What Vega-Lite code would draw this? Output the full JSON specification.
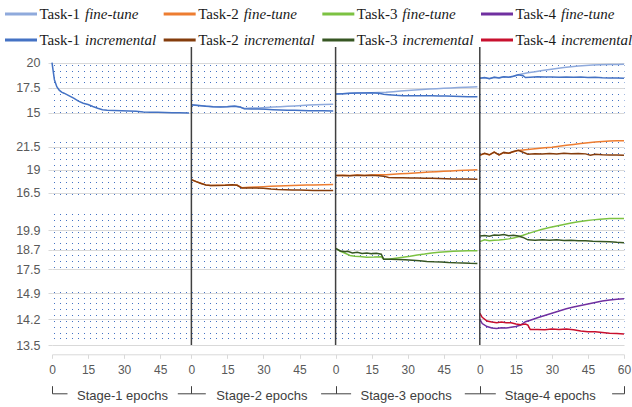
{
"$schema": "https://vega.github.io/schema/vega-lite/v6.json",
"padding": {"left": 5, "top": 5, "right": 0, "bottom": 0},
"bounds": "flush",
"spacing": 0,
"config": {"view": {"stroke": null}, "font": "Liberation Sans", "axis": {"labelFont": "Liberation Sans"}},
"datasets": {
"legend": [
{"col":0,"row":0,"task":"Task-1","mode":"fine-tune","series":"Task-1 fine-tune"},
{"col":1,"row":0,"task":"Task-2","mode":"fine-tune","series":"Task-2 fine-tune"},
{"col":2,"row":0,"task":"Task-3","mode":"fine-tune","series":"Task-3 fine-tune"},
{"col":3,"row":0,"task":"Task-4","mode":"fine-tune","series":"Task-4 fine-tune"},
{"col":0,"row":1,"task":"Task-1","mode":"incremental","series":"Task-1 incremental"},
{"col":1,"row":1,"task":"Task-2","mode":"incremental","series":"Task-2 incremental"},
{"col":2,"row":1,"task":"Task-3","mode":"incremental","series":"Task-3 incremental"},
{"col":3,"row":1,"task":"Task-4","mode":"incremental","series":"Task-4 incremental"}
],
"bounds": [{"b":58},{"b":118},{"b":178}],
"task1": [
{"series":"Task-1 incremental","stage":1,"step":0,"value":20.0},
{"series":"Task-1 incremental","stage":1,"step":1,"value":18.3},
{"series":"Task-1 incremental","stage":1,"step":2,"value":17.6},
{"series":"Task-1 incremental","stage":1,"step":3,"value":17.25},
{"series":"Task-1 incremental","stage":1,"step":4,"value":17.05},
{"series":"Task-1 incremental","stage":1,"step":5,"value":16.95},
{"series":"Task-1 incremental","stage":1,"step":7,"value":16.7},
{"series":"Task-1 incremental","stage":1,"step":9,"value":16.45},
{"series":"Task-1 incremental","stage":1,"step":11,"value":16.15},
{"series":"Task-1 incremental","stage":1,"step":13,"value":15.95},
{"series":"Task-1 incremental","stage":1,"step":15,"value":15.82},
{"series":"Task-1 incremental","stage":1,"step":17,"value":15.62},
{"series":"Task-1 incremental","stage":1,"step":19,"value":15.45},
{"series":"Task-1 incremental","stage":1,"step":21,"value":15.3},
{"series":"Task-1 incremental","stage":1,"step":23,"value":15.24},
{"series":"Task-1 incremental","stage":1,"step":26,"value":15.22},
{"series":"Task-1 incremental","stage":1,"step":29,"value":15.2},
{"series":"Task-1 incremental","stage":1,"step":32,"value":15.18},
{"series":"Task-1 incremental","stage":1,"step":35,"value":15.15},
{"series":"Task-1 incremental","stage":1,"step":38,"value":15.08},
{"series":"Task-1 incremental","stage":1,"step":41,"value":15.05},
{"series":"Task-1 incremental","stage":1,"step":44,"value":15.04},
{"series":"Task-1 incremental","stage":1,"step":47,"value":15.02},
{"series":"Task-1 incremental","stage":1,"step":50,"value":15.0},
{"series":"Task-1 incremental","stage":1,"step":53,"value":15.0},
{"series":"Task-1 incremental","stage":1,"step":57,"value":14.98},
{"series":"Task-1 fine-tune","stage":2,"step":58,"value":15.78},
{"series":"Task-1 fine-tune","stage":2,"step":61,"value":15.72},
{"series":"Task-1 fine-tune","stage":2,"step":64,"value":15.66},
{"series":"Task-1 fine-tune","stage":2,"step":67,"value":15.6},
{"series":"Task-1 fine-tune","stage":2,"step":70,"value":15.6},
{"series":"Task-1 fine-tune","stage":2,"step":73,"value":15.62},
{"series":"Task-1 fine-tune","stage":2,"step":76,"value":15.66},
{"series":"Task-1 fine-tune","stage":2,"step":78,"value":15.6},
{"series":"Task-1 fine-tune","stage":2,"step":80,"value":15.42},
{"series":"Task-1 fine-tune","stage":2,"step":83,"value":15.46},
{"series":"Task-1 fine-tune","stage":2,"step":86,"value":15.48},
{"series":"Task-1 fine-tune","stage":2,"step":89,"value":15.52},
{"series":"Task-1 fine-tune","stage":2,"step":92,"value":15.56},
{"series":"Task-1 fine-tune","stage":2,"step":95,"value":15.6},
{"series":"Task-1 fine-tune","stage":2,"step":98,"value":15.64},
{"series":"Task-1 fine-tune","stage":2,"step":101,"value":15.68},
{"series":"Task-1 fine-tune","stage":2,"step":104,"value":15.72},
{"series":"Task-1 fine-tune","stage":2,"step":107,"value":15.76},
{"series":"Task-1 fine-tune","stage":2,"step":110,"value":15.8},
{"series":"Task-1 fine-tune","stage":2,"step":113,"value":15.82},
{"series":"Task-1 fine-tune","stage":2,"step":117,"value":15.85},
{"series":"Task-1 incremental","stage":2,"step":58,"value":15.8},
{"series":"Task-1 incremental","stage":2,"step":61,"value":15.72},
{"series":"Task-1 incremental","stage":2,"step":64,"value":15.65},
{"series":"Task-1 incremental","stage":2,"step":67,"value":15.6},
{"series":"Task-1 incremental","stage":2,"step":70,"value":15.58},
{"series":"Task-1 incremental","stage":2,"step":73,"value":15.6},
{"series":"Task-1 incremental","stage":2,"step":76,"value":15.64},
{"series":"Task-1 incremental","stage":2,"step":78,"value":15.58},
{"series":"Task-1 incremental","stage":2,"step":80,"value":15.4},
{"series":"Task-1 incremental","stage":2,"step":83,"value":15.38},
{"series":"Task-1 incremental","stage":2,"step":86,"value":15.36},
{"series":"Task-1 incremental","stage":2,"step":89,"value":15.34},
{"series":"Task-1 incremental","stage":2,"step":92,"value":15.3},
{"series":"Task-1 incremental","stage":2,"step":95,"value":15.27},
{"series":"Task-1 incremental","stage":2,"step":98,"value":15.25},
{"series":"Task-1 incremental","stage":2,"step":101,"value":15.24},
{"series":"Task-1 incremental","stage":2,"step":104,"value":15.22},
{"series":"Task-1 incremental","stage":2,"step":107,"value":15.2},
{"series":"Task-1 incremental","stage":2,"step":110,"value":15.2},
{"series":"Task-1 incremental","stage":2,"step":113,"value":15.19},
{"series":"Task-1 incremental","stage":2,"step":117,"value":15.18},
{"series":"Task-1 fine-tune","stage":3,"step":118,"value":16.86},
{"series":"Task-1 fine-tune","stage":3,"step":121,"value":16.9},
{"series":"Task-1 fine-tune","stage":3,"step":124,"value":16.95},
{"series":"Task-1 fine-tune","stage":3,"step":127,"value":16.97},
{"series":"Task-1 fine-tune","stage":3,"step":130,"value":16.99},
{"series":"Task-1 fine-tune","stage":3,"step":133,"value":17.0},
{"series":"Task-1 fine-tune","stage":3,"step":136,"value":17.02},
{"series":"Task-1 fine-tune","stage":3,"step":139,"value":17.04},
{"series":"Task-1 fine-tune","stage":3,"step":142,"value":17.1},
{"series":"Task-1 fine-tune","stage":3,"step":145,"value":17.16},
{"series":"Task-1 fine-tune","stage":3,"step":148,"value":17.21},
{"series":"Task-1 fine-tune","stage":3,"step":151,"value":17.26},
{"series":"Task-1 fine-tune","stage":3,"step":154,"value":17.31},
{"series":"Task-1 fine-tune","stage":3,"step":157,"value":17.36},
{"series":"Task-1 fine-tune","stage":3,"step":160,"value":17.4},
{"series":"Task-1 fine-tune","stage":3,"step":163,"value":17.44},
{"series":"Task-1 fine-tune","stage":3,"step":166,"value":17.48},
{"series":"Task-1 fine-tune","stage":3,"step":169,"value":17.52},
{"series":"Task-1 fine-tune","stage":3,"step":172,"value":17.55},
{"series":"Task-1 fine-tune","stage":3,"step":175,"value":17.58},
{"series":"Task-1 fine-tune","stage":3,"step":177,"value":17.6},
{"series":"Task-1 incremental","stage":3,"step":118,"value":16.86},
{"series":"Task-1 incremental","stage":3,"step":121,"value":16.9},
{"series":"Task-1 incremental","stage":3,"step":124,"value":16.94},
{"series":"Task-1 incremental","stage":3,"step":127,"value":16.97},
{"series":"Task-1 incremental","stage":3,"step":130,"value":16.98},
{"series":"Task-1 incremental","stage":3,"step":133,"value":17.0},
{"series":"Task-1 incremental","stage":3,"step":136,"value":16.95},
{"series":"Task-1 incremental","stage":3,"step":138,"value":16.85},
{"series":"Task-1 incremental","stage":3,"step":140,"value":16.8},
{"series":"Task-1 incremental","stage":3,"step":143,"value":16.74},
{"series":"Task-1 incremental","stage":3,"step":146,"value":16.7},
{"series":"Task-1 incremental","stage":3,"step":149,"value":16.7},
{"series":"Task-1 incremental","stage":3,"step":152,"value":16.69},
{"series":"Task-1 incremental","stage":3,"step":155,"value":16.7},
{"series":"Task-1 incremental","stage":3,"step":158,"value":16.69},
{"series":"Task-1 incremental","stage":3,"step":161,"value":16.68},
{"series":"Task-1 incremental","stage":3,"step":164,"value":16.66},
{"series":"Task-1 incremental","stage":3,"step":167,"value":16.64},
{"series":"Task-1 incremental","stage":3,"step":170,"value":16.62},
{"series":"Task-1 incremental","stage":3,"step":173,"value":16.6},
{"series":"Task-1 incremental","stage":3,"step":177,"value":16.59},
{"series":"Task-1 fine-tune","stage":4,"step":178,"value":18.45},
{"series":"Task-1 fine-tune","stage":4,"step":180,"value":18.5},
{"series":"Task-1 fine-tune","stage":4,"step":182,"value":18.42},
{"series":"Task-1 fine-tune","stage":4,"step":184,"value":18.55},
{"series":"Task-1 fine-tune","stage":4,"step":186,"value":18.5},
{"series":"Task-1 fine-tune","stage":4,"step":188,"value":18.6},
{"series":"Task-1 fine-tune","stage":4,"step":190,"value":18.55},
{"series":"Task-1 fine-tune","stage":4,"step":192,"value":18.65},
{"series":"Task-1 fine-tune","stage":4,"step":194,"value":18.8},
{"series":"Task-1 fine-tune","stage":4,"step":196,"value":18.9},
{"series":"Task-1 fine-tune","stage":4,"step":198,"value":19.0},
{"series":"Task-1 fine-tune","stage":4,"step":201,"value":19.1},
{"series":"Task-1 fine-tune","stage":4,"step":204,"value":19.22},
{"series":"Task-1 fine-tune","stage":4,"step":207,"value":19.33},
{"series":"Task-1 fine-tune","stage":4,"step":210,"value":19.42},
{"series":"Task-1 fine-tune","stage":4,"step":213,"value":19.52},
{"series":"Task-1 fine-tune","stage":4,"step":216,"value":19.6},
{"series":"Task-1 fine-tune","stage":4,"step":219,"value":19.67},
{"series":"Task-1 fine-tune","stage":4,"step":222,"value":19.73},
{"series":"Task-1 fine-tune","stage":4,"step":225,"value":19.77},
{"series":"Task-1 fine-tune","stage":4,"step":228,"value":19.8},
{"series":"Task-1 fine-tune","stage":4,"step":232,"value":19.82},
{"series":"Task-1 fine-tune","stage":4,"step":235,"value":19.83},
{"series":"Task-1 fine-tune","stage":4,"step":238,"value":19.84},
{"series":"Task-1 incremental","stage":4,"step":178,"value":18.45},
{"series":"Task-1 incremental","stage":4,"step":180,"value":18.52},
{"series":"Task-1 incremental","stage":4,"step":182,"value":18.4},
{"series":"Task-1 incremental","stage":4,"step":184,"value":18.55},
{"series":"Task-1 incremental","stage":4,"step":186,"value":18.48},
{"series":"Task-1 incremental","stage":4,"step":188,"value":18.6},
{"series":"Task-1 incremental","stage":4,"step":190,"value":18.55},
{"series":"Task-1 incremental","stage":4,"step":192,"value":18.65},
{"series":"Task-1 incremental","stage":4,"step":194,"value":18.8},
{"series":"Task-1 incremental","stage":4,"step":196,"value":18.7},
{"series":"Task-1 incremental","stage":4,"step":197,"value":18.52},
{"series":"Task-1 incremental","stage":4,"step":199,"value":18.55},
{"series":"Task-1 incremental","stage":4,"step":202,"value":18.6},
{"series":"Task-1 incremental","stage":4,"step":205,"value":18.57},
{"series":"Task-1 incremental","stage":4,"step":208,"value":18.58},
{"series":"Task-1 incremental","stage":4,"step":211,"value":18.55},
{"series":"Task-1 incremental","stage":4,"step":214,"value":18.57},
{"series":"Task-1 incremental","stage":4,"step":217,"value":18.55},
{"series":"Task-1 incremental","stage":4,"step":220,"value":18.56},
{"series":"Task-1 incremental","stage":4,"step":223,"value":18.53},
{"series":"Task-1 incremental","stage":4,"step":226,"value":18.55},
{"series":"Task-1 incremental","stage":4,"step":229,"value":18.5},
{"series":"Task-1 incremental","stage":4,"step":232,"value":18.48},
{"series":"Task-1 incremental","stage":4,"step":235,"value":18.46},
{"series":"Task-1 incremental","stage":4,"step":238,"value":18.45}
],
"task2": [
{"series":"Task-2 fine-tune","stage":2,"step":58,"value":17.9},
{"series":"Task-2 fine-tune","stage":2,"step":60,"value":17.7},
{"series":"Task-2 fine-tune","stage":2,"step":62,"value":17.53},
{"series":"Task-2 fine-tune","stage":2,"step":64,"value":17.35},
{"series":"Task-2 fine-tune","stage":2,"step":66,"value":17.28},
{"series":"Task-2 fine-tune","stage":2,"step":69,"value":17.3},
{"series":"Task-2 fine-tune","stage":2,"step":72,"value":17.32},
{"series":"Task-2 fine-tune","stage":2,"step":75,"value":17.35},
{"series":"Task-2 fine-tune","stage":2,"step":77,"value":17.33},
{"series":"Task-2 fine-tune","stage":2,"step":79,"value":17.05},
{"series":"Task-2 fine-tune","stage":2,"step":82,"value":17.1},
{"series":"Task-2 fine-tune","stage":2,"step":85,"value":17.13},
{"series":"Task-2 fine-tune","stage":2,"step":88,"value":17.16},
{"series":"Task-2 fine-tune","stage":2,"step":91,"value":17.2},
{"series":"Task-2 fine-tune","stage":2,"step":94,"value":17.23},
{"series":"Task-2 fine-tune","stage":2,"step":97,"value":17.26},
{"series":"Task-2 fine-tune","stage":2,"step":100,"value":17.29},
{"series":"Task-2 fine-tune","stage":2,"step":103,"value":17.31},
{"series":"Task-2 fine-tune","stage":2,"step":106,"value":17.33},
{"series":"Task-2 fine-tune","stage":2,"step":109,"value":17.35},
{"series":"Task-2 fine-tune","stage":2,"step":113,"value":17.37},
{"series":"Task-2 fine-tune","stage":2,"step":117,"value":17.38},
{"series":"Task-2 incremental","stage":2,"step":58,"value":17.92},
{"series":"Task-2 incremental","stage":2,"step":60,"value":17.7},
{"series":"Task-2 incremental","stage":2,"step":62,"value":17.5},
{"series":"Task-2 incremental","stage":2,"step":64,"value":17.33},
{"series":"Task-2 incremental","stage":2,"step":66,"value":17.27},
{"series":"Task-2 incremental","stage":2,"step":69,"value":17.28},
{"series":"Task-2 incremental","stage":2,"step":72,"value":17.3},
{"series":"Task-2 incremental","stage":2,"step":75,"value":17.36},
{"series":"Task-2 incremental","stage":2,"step":77,"value":17.3},
{"series":"Task-2 incremental","stage":2,"step":79,"value":17.0},
{"series":"Task-2 incremental","stage":2,"step":82,"value":17.02},
{"series":"Task-2 incremental","stage":2,"step":85,"value":17.0},
{"series":"Task-2 incremental","stage":2,"step":88,"value":16.97},
{"series":"Task-2 incremental","stage":2,"step":91,"value":16.9},
{"series":"Task-2 incremental","stage":2,"step":94,"value":16.85},
{"series":"Task-2 incremental","stage":2,"step":97,"value":16.83},
{"series":"Task-2 incremental","stage":2,"step":100,"value":16.8},
{"series":"Task-2 incremental","stage":2,"step":103,"value":16.78},
{"series":"Task-2 incremental","stage":2,"step":106,"value":16.76},
{"series":"Task-2 incremental","stage":2,"step":109,"value":16.75},
{"series":"Task-2 incremental","stage":2,"step":113,"value":16.74},
{"series":"Task-2 incremental","stage":2,"step":117,"value":16.73},
{"series":"Task-2 fine-tune","stage":3,"step":118,"value":18.37},
{"series":"Task-2 fine-tune","stage":3,"step":121,"value":18.4},
{"series":"Task-2 fine-tune","stage":3,"step":124,"value":18.36},
{"series":"Task-2 fine-tune","stage":3,"step":127,"value":18.42},
{"series":"Task-2 fine-tune","stage":3,"step":130,"value":18.38},
{"series":"Task-2 fine-tune","stage":3,"step":133,"value":18.42},
{"series":"Task-2 fine-tune","stage":3,"step":136,"value":18.45},
{"series":"Task-2 fine-tune","stage":3,"step":139,"value":18.45},
{"series":"Task-2 fine-tune","stage":3,"step":142,"value":18.5},
{"series":"Task-2 fine-tune","stage":3,"step":145,"value":18.55},
{"series":"Task-2 fine-tune","stage":3,"step":148,"value":18.6},
{"series":"Task-2 fine-tune","stage":3,"step":151,"value":18.65},
{"series":"Task-2 fine-tune","stage":3,"step":154,"value":18.7},
{"series":"Task-2 fine-tune","stage":3,"step":157,"value":18.74},
{"series":"Task-2 fine-tune","stage":3,"step":160,"value":18.78},
{"series":"Task-2 fine-tune","stage":3,"step":163,"value":18.83},
{"series":"Task-2 fine-tune","stage":3,"step":166,"value":18.87},
{"series":"Task-2 fine-tune","stage":3,"step":169,"value":18.91},
{"series":"Task-2 fine-tune","stage":3,"step":172,"value":18.95},
{"series":"Task-2 fine-tune","stage":3,"step":175,"value":18.98},
{"series":"Task-2 fine-tune","stage":3,"step":177,"value":19.0},
{"series":"Task-2 incremental","stage":3,"step":118,"value":18.37},
{"series":"Task-2 incremental","stage":3,"step":121,"value":18.38},
{"series":"Task-2 incremental","stage":3,"step":124,"value":18.34},
{"series":"Task-2 incremental","stage":3,"step":127,"value":18.4},
{"series":"Task-2 incremental","stage":3,"step":130,"value":18.36},
{"series":"Task-2 incremental","stage":3,"step":133,"value":18.4},
{"series":"Task-2 incremental","stage":3,"step":136,"value":18.35},
{"series":"Task-2 incremental","stage":3,"step":138,"value":18.3},
{"series":"Task-2 incremental","stage":3,"step":140,"value":18.15},
{"series":"Task-2 incremental","stage":3,"step":143,"value":18.12},
{"series":"Task-2 incremental","stage":3,"step":146,"value":18.12},
{"series":"Task-2 incremental","stage":3,"step":149,"value":18.1},
{"series":"Task-2 incremental","stage":3,"step":152,"value":18.1},
{"series":"Task-2 incremental","stage":3,"step":155,"value":18.08},
{"series":"Task-2 incremental","stage":3,"step":158,"value":18.06},
{"series":"Task-2 incremental","stage":3,"step":161,"value":18.04},
{"series":"Task-2 incremental","stage":3,"step":164,"value":18.02},
{"series":"Task-2 incremental","stage":3,"step":167,"value":18.0},
{"series":"Task-2 incremental","stage":3,"step":170,"value":18.0},
{"series":"Task-2 incremental","stage":3,"step":173,"value":17.98},
{"series":"Task-2 incremental","stage":3,"step":177,"value":17.97},
{"series":"Task-2 fine-tune","stage":4,"step":178,"value":20.58},
{"series":"Task-2 fine-tune","stage":4,"step":180,"value":20.75},
{"series":"Task-2 fine-tune","stage":4,"step":182,"value":20.6},
{"series":"Task-2 fine-tune","stage":4,"step":184,"value":20.9},
{"series":"Task-2 fine-tune","stage":4,"step":186,"value":20.6},
{"series":"Task-2 fine-tune","stage":4,"step":188,"value":20.85},
{"series":"Task-2 fine-tune","stage":4,"step":190,"value":20.8},
{"series":"Task-2 fine-tune","stage":4,"step":192,"value":20.95},
{"series":"Task-2 fine-tune","stage":4,"step":194,"value":21.1},
{"series":"Task-2 fine-tune","stage":4,"step":196,"value":21.15},
{"series":"Task-2 fine-tune","stage":4,"step":199,"value":21.22},
{"series":"Task-2 fine-tune","stage":4,"step":202,"value":21.3},
{"series":"Task-2 fine-tune","stage":4,"step":205,"value":21.38},
{"series":"Task-2 fine-tune","stage":4,"step":208,"value":21.45},
{"series":"Task-2 fine-tune","stage":4,"step":211,"value":21.55},
{"series":"Task-2 fine-tune","stage":4,"step":214,"value":21.65},
{"series":"Task-2 fine-tune","stage":4,"step":217,"value":21.75},
{"series":"Task-2 fine-tune","stage":4,"step":220,"value":21.85},
{"series":"Task-2 fine-tune","stage":4,"step":223,"value":21.93},
{"series":"Task-2 fine-tune","stage":4,"step":226,"value":22.0},
{"series":"Task-2 fine-tune","stage":4,"step":229,"value":22.07},
{"series":"Task-2 fine-tune","stage":4,"step":232,"value":22.12},
{"series":"Task-2 fine-tune","stage":4,"step":235,"value":22.14},
{"series":"Task-2 fine-tune","stage":4,"step":238,"value":22.15},
{"series":"Task-2 incremental","stage":4,"step":178,"value":20.58},
{"series":"Task-2 incremental","stage":4,"step":180,"value":20.78},
{"series":"Task-2 incremental","stage":4,"step":182,"value":20.62},
{"series":"Task-2 incremental","stage":4,"step":184,"value":20.92},
{"series":"Task-2 incremental","stage":4,"step":186,"value":20.6},
{"series":"Task-2 incremental","stage":4,"step":188,"value":20.88},
{"series":"Task-2 incremental","stage":4,"step":190,"value":20.8},
{"series":"Task-2 incremental","stage":4,"step":192,"value":20.98},
{"series":"Task-2 incremental","stage":4,"step":194,"value":21.12},
{"series":"Task-2 incremental","stage":4,"step":196,"value":20.9},
{"series":"Task-2 incremental","stage":4,"step":198,"value":20.68},
{"series":"Task-2 incremental","stage":4,"step":201,"value":20.72},
{"series":"Task-2 incremental","stage":4,"step":204,"value":20.7},
{"series":"Task-2 incremental","stage":4,"step":207,"value":20.76},
{"series":"Task-2 incremental","stage":4,"step":210,"value":20.72},
{"series":"Task-2 incremental","stage":4,"step":213,"value":20.78},
{"series":"Task-2 incremental","stage":4,"step":216,"value":20.74},
{"series":"Task-2 incremental","stage":4,"step":219,"value":20.76},
{"series":"Task-2 incremental","stage":4,"step":222,"value":20.72},
{"series":"Task-2 incremental","stage":4,"step":224,"value":20.58},
{"series":"Task-2 incremental","stage":4,"step":226,"value":20.68},
{"series":"Task-2 incremental","stage":4,"step":229,"value":20.62},
{"series":"Task-2 incremental","stage":4,"step":232,"value":20.6},
{"series":"Task-2 incremental","stage":4,"step":235,"value":20.6},
{"series":"Task-2 incremental","stage":4,"step":238,"value":20.58}
],
"task3": [
{"series":"Task-3 fine-tune","stage":3,"step":118,"value":18.78},
{"series":"Task-3 fine-tune","stage":3,"step":120,"value":18.6},
{"series":"Task-3 fine-tune","stage":3,"step":122,"value":18.48},
{"series":"Task-3 fine-tune","stage":3,"step":124,"value":18.35},
{"series":"Task-3 fine-tune","stage":3,"step":126,"value":18.3},
{"series":"Task-3 fine-tune","stage":3,"step":128,"value":18.28},
{"series":"Task-3 fine-tune","stage":3,"step":131,"value":18.24},
{"series":"Task-3 fine-tune","stage":3,"step":134,"value":18.25},
{"series":"Task-3 fine-tune","stage":3,"step":137,"value":18.27},
{"series":"Task-3 fine-tune","stage":3,"step":138,"value":18.12},
{"series":"Task-3 fine-tune","stage":3,"step":140,"value":18.12},
{"series":"Task-3 fine-tune","stage":3,"step":143,"value":18.18},
{"series":"Task-3 fine-tune","stage":3,"step":146,"value":18.24},
{"series":"Task-3 fine-tune","stage":3,"step":149,"value":18.3},
{"series":"Task-3 fine-tune","stage":3,"step":152,"value":18.37},
{"series":"Task-3 fine-tune","stage":3,"step":155,"value":18.43},
{"series":"Task-3 fine-tune","stage":3,"step":158,"value":18.5},
{"series":"Task-3 fine-tune","stage":3,"step":161,"value":18.54},
{"series":"Task-3 fine-tune","stage":3,"step":164,"value":18.57},
{"series":"Task-3 fine-tune","stage":3,"step":167,"value":18.6},
{"series":"Task-3 fine-tune","stage":3,"step":170,"value":18.62},
{"series":"Task-3 fine-tune","stage":3,"step":173,"value":18.63},
{"series":"Task-3 fine-tune","stage":3,"step":177,"value":18.64},
{"series":"Task-3 incremental","stage":3,"step":118,"value":18.78},
{"series":"Task-3 incremental","stage":3,"step":120,"value":18.62},
{"series":"Task-3 incremental","stage":3,"step":122,"value":18.57},
{"series":"Task-3 incremental","stage":3,"step":123,"value":18.6},
{"series":"Task-3 incremental","stage":3,"step":125,"value":18.5},
{"series":"Task-3 incremental","stage":3,"step":127,"value":18.54},
{"series":"Task-3 incremental","stage":3,"step":129,"value":18.47},
{"series":"Task-3 incremental","stage":3,"step":131,"value":18.5},
{"series":"Task-3 incremental","stage":3,"step":133,"value":18.46},
{"series":"Task-3 incremental","stage":3,"step":135,"value":18.48},
{"series":"Task-3 incremental","stage":3,"step":137,"value":18.42},
{"series":"Task-3 incremental","stage":3,"step":138,"value":18.12},
{"series":"Task-3 incremental","stage":3,"step":141,"value":18.12},
{"series":"Task-3 incremental","stage":3,"step":144,"value":18.1},
{"series":"Task-3 incremental","stage":3,"step":147,"value":18.08},
{"series":"Task-3 incremental","stage":3,"step":150,"value":18.05},
{"series":"Task-3 incremental","stage":3,"step":153,"value":18.02},
{"series":"Task-3 incremental","stage":3,"step":156,"value":17.98},
{"series":"Task-3 incremental","stage":3,"step":159,"value":17.96},
{"series":"Task-3 incremental","stage":3,"step":162,"value":17.95},
{"series":"Task-3 incremental","stage":3,"step":165,"value":17.92},
{"series":"Task-3 incremental","stage":3,"step":168,"value":17.9},
{"series":"Task-3 incremental","stage":3,"step":171,"value":17.89},
{"series":"Task-3 incremental","stage":3,"step":174,"value":17.87},
{"series":"Task-3 incremental","stage":3,"step":177,"value":17.86},
{"series":"Task-3 fine-tune","stage":4,"step":178,"value":19.19},
{"series":"Task-3 fine-tune","stage":4,"step":180,"value":19.3},
{"series":"Task-3 fine-tune","stage":4,"step":182,"value":19.25},
{"series":"Task-3 fine-tune","stage":4,"step":184,"value":19.28},
{"series":"Task-3 fine-tune","stage":4,"step":186,"value":19.29},
{"series":"Task-3 fine-tune","stage":4,"step":188,"value":19.32},
{"series":"Task-3 fine-tune","stage":4,"step":190,"value":19.36},
{"series":"Task-3 fine-tune","stage":4,"step":192,"value":19.42},
{"series":"Task-3 fine-tune","stage":4,"step":194,"value":19.49},
{"series":"Task-3 fine-tune","stage":4,"step":196,"value":19.58},
{"series":"Task-3 fine-tune","stage":4,"step":198,"value":19.68},
{"series":"Task-3 fine-tune","stage":4,"step":201,"value":19.82},
{"series":"Task-3 fine-tune","stage":4,"step":204,"value":19.95},
{"series":"Task-3 fine-tune","stage":4,"step":207,"value":20.06},
{"series":"Task-3 fine-tune","stage":4,"step":210,"value":20.15},
{"series":"Task-3 fine-tune","stage":4,"step":213,"value":20.24},
{"series":"Task-3 fine-tune","stage":4,"step":216,"value":20.33},
{"series":"Task-3 fine-tune","stage":4,"step":219,"value":20.4},
{"series":"Task-3 fine-tune","stage":4,"step":222,"value":20.47},
{"series":"Task-3 fine-tune","stage":4,"step":225,"value":20.52},
{"series":"Task-3 fine-tune","stage":4,"step":228,"value":20.56},
{"series":"Task-3 fine-tune","stage":4,"step":232,"value":20.6},
{"series":"Task-3 fine-tune","stage":4,"step":235,"value":20.61},
{"series":"Task-3 fine-tune","stage":4,"step":238,"value":20.61},
{"series":"Task-3 incremental","stage":4,"step":178,"value":19.53},
{"series":"Task-3 incremental","stage":4,"step":180,"value":19.56},
{"series":"Task-3 incremental","stage":4,"step":182,"value":19.52},
{"series":"Task-3 incremental","stage":4,"step":184,"value":19.6},
{"series":"Task-3 incremental","stage":4,"step":186,"value":19.58},
{"series":"Task-3 incremental","stage":4,"step":188,"value":19.62},
{"series":"Task-3 incremental","stage":4,"step":190,"value":19.55},
{"series":"Task-3 incremental","stage":4,"step":192,"value":19.58},
{"series":"Task-3 incremental","stage":4,"step":194,"value":19.53},
{"series":"Task-3 incremental","stage":4,"step":196,"value":19.45},
{"series":"Task-3 incremental","stage":4,"step":198,"value":19.3},
{"series":"Task-3 incremental","stage":4,"step":201,"value":19.28},
{"series":"Task-3 incremental","stage":4,"step":204,"value":19.3},
{"series":"Task-3 incremental","stage":4,"step":207,"value":19.27},
{"series":"Task-3 incremental","stage":4,"step":210,"value":19.3},
{"series":"Task-3 incremental","stage":4,"step":213,"value":19.26},
{"series":"Task-3 incremental","stage":4,"step":216,"value":19.28},
{"series":"Task-3 incremental","stage":4,"step":219,"value":19.25},
{"series":"Task-3 incremental","stage":4,"step":222,"value":19.25},
{"series":"Task-3 incremental","stage":4,"step":225,"value":19.22},
{"series":"Task-3 incremental","stage":4,"step":228,"value":19.2},
{"series":"Task-3 incremental","stage":4,"step":232,"value":19.18},
{"series":"Task-3 incremental","stage":4,"step":235,"value":19.15},
{"series":"Task-3 incremental","stage":4,"step":238,"value":19.13}
],
"task4": [
{"series":"Task-4 fine-tune","stage":4,"step":178,"value":14.2},
{"series":"Task-4 fine-tune","stage":4,"step":179,"value":14.08},
{"series":"Task-4 fine-tune","stage":4,"step":181,"value":14.0},
{"series":"Task-4 fine-tune","stage":4,"step":183,"value":13.96},
{"series":"Task-4 fine-tune","stage":4,"step":185,"value":13.95},
{"series":"Task-4 fine-tune","stage":4,"step":187,"value":13.97},
{"series":"Task-4 fine-tune","stage":4,"step":189,"value":13.96},
{"series":"Task-4 fine-tune","stage":4,"step":191,"value":13.98},
{"series":"Task-4 fine-tune","stage":4,"step":193,"value":14.0},
{"series":"Task-4 fine-tune","stage":4,"step":195,"value":14.04},
{"series":"Task-4 fine-tune","stage":4,"step":197,"value":14.13},
{"series":"Task-4 fine-tune","stage":4,"step":199,"value":14.17},
{"series":"Task-4 fine-tune","stage":4,"step":202,"value":14.24},
{"series":"Task-4 fine-tune","stage":4,"step":205,"value":14.3},
{"series":"Task-4 fine-tune","stage":4,"step":208,"value":14.36},
{"series":"Task-4 fine-tune","stage":4,"step":211,"value":14.42},
{"series":"Task-4 fine-tune","stage":4,"step":214,"value":14.48},
{"series":"Task-4 fine-tune","stage":4,"step":217,"value":14.53},
{"series":"Task-4 fine-tune","stage":4,"step":220,"value":14.57},
{"series":"Task-4 fine-tune","stage":4,"step":223,"value":14.61},
{"series":"Task-4 fine-tune","stage":4,"step":226,"value":14.65},
{"series":"Task-4 fine-tune","stage":4,"step":229,"value":14.69},
{"series":"Task-4 fine-tune","stage":4,"step":232,"value":14.72},
{"series":"Task-4 fine-tune","stage":4,"step":235,"value":14.74},
{"series":"Task-4 fine-tune","stage":4,"step":238,"value":14.75},
{"series":"Task-4 incremental","stage":4,"step":178,"value":14.36},
{"series":"Task-4 incremental","stage":4,"step":179,"value":14.25},
{"series":"Task-4 incremental","stage":4,"step":181,"value":14.15},
{"series":"Task-4 incremental","stage":4,"step":183,"value":14.12},
{"series":"Task-4 incremental","stage":4,"step":185,"value":14.1},
{"series":"Task-4 incremental","stage":4,"step":187,"value":14.12},
{"series":"Task-4 incremental","stage":4,"step":189,"value":14.1},
{"series":"Task-4 incremental","stage":4,"step":191,"value":14.1},
{"series":"Task-4 incremental","stage":4,"step":193,"value":14.07},
{"series":"Task-4 incremental","stage":4,"step":195,"value":14.05},
{"series":"Task-4 incremental","stage":4,"step":197,"value":14.07},
{"series":"Task-4 incremental","stage":4,"step":198,"value":14.04},
{"series":"Task-4 incremental","stage":4,"step":199,"value":13.92},
{"series":"Task-4 incremental","stage":4,"step":202,"value":13.92},
{"series":"Task-4 incremental","stage":4,"step":205,"value":13.91},
{"series":"Task-4 incremental","stage":4,"step":208,"value":13.93},
{"series":"Task-4 incremental","stage":4,"step":211,"value":13.92},
{"series":"Task-4 incremental","stage":4,"step":214,"value":13.93},
{"series":"Task-4 incremental","stage":4,"step":217,"value":13.91},
{"series":"Task-4 incremental","stage":4,"step":220,"value":13.88},
{"series":"Task-4 incremental","stage":4,"step":223,"value":13.86},
{"series":"Task-4 incremental","stage":4,"step":226,"value":13.86},
{"series":"Task-4 incremental","stage":4,"step":229,"value":13.84},
{"series":"Task-4 incremental","stage":4,"step":232,"value":13.82},
{"series":"Task-4 incremental","stage":4,"step":235,"value":13.81},
{"series":"Task-4 incremental","stage":4,"step":238,"value":13.8}
]
},
"vconcat": [
{
"width": 572, "height": 42,
"data": {"name": "legend"},
"encoding": {
"x": {"field": "col", "type": "quantitative", "scale": {"domain": [0.19537, 3.80037], "nice": false, "zero": false}, "axis": null},
"y": {"field": "row", "type": "quantitative", "scale": {"domain": [-0.3462, 1.2692], "reverse": true, "nice": false, "zero": false}, "axis": null}
},
"layer": [
{"mark": {"type": "tick", "orient": "horizontal", "size": 32, "thickness": 3, "opacity": 1},
 "encoding": {"color": {"field": "series", "type": "nominal", "legend": null, "scale": {"domain": ["Task-1 fine-tune","Task-2 fine-tune","Task-3 fine-tune","Task-4 fine-tune","Task-1 incremental","Task-2 incremental","Task-3 incremental","Task-4 incremental"], "range": ["#8FAADC","#ED7D31","#7CC242","#7030A0","#4472C4","#843C0C","#375623","#C8102E"]}}}},
{"mark": {"type": "text", "align": "left", "baseline": "middle", "dx": 18.5, "font": "Liberation Serif", "fontSize": 15, "color": "#1a1a1a"},
 "encoding": {"text": {"field": "task"}}},
{"mark": {"type": "text", "align": "left", "baseline": "middle", "dx": 64, "font": "Liberation Serif", "fontSize": 15, "fontStyle": "italic", "color": "#1a1a1a"},
 "encoding": {"text": {"field": "mode"}}}
]
},
{
"width": 572, "height": 79,
"layer": [
{"data": {"name": "task1"},
 "mark": {"type": "line", "strokeWidth": 1.5},
 "encoding": {
 "x": {"field": "step", "type": "quantitative", "scale": {"domain": [0, 238], "nice": false, "zero": false}, "axis": null},
 "y": {"field": "value", "type": "quantitative", "scale": {"domain": [13.67, 21.57], "nice": false, "zero": false},
  "axis": {"title": null, "values": [19.77,19.17,18.57,18.07,17.47,16.87,16.27,15.67,15.07,15,17.5,20], "format": ".1~f",
   "labelExpr": "indexof([15,17.5,20], datum.value) >= 0 ? datum.label : ''",
   "domain": false, "grid": true,
   "gridColor": {"condition": {"test": "indexof([15,17.5,20], datum.value) >= 0", "value": "#D9D9D9"}, "value": "#4472C4"},
   "gridDash": {"condition": {"test": "indexof([15,17.5,20], datum.value) >= 0", "value": []}, "value": [1, 5]},
   "gridDashOffset": 4.5,
   "tickColor": {"condition": {"test": "indexof([15,17.5,20], datum.value) >= 0", "value": "#D9D9D9"}, "value": "rgba(0,0,0,0)"},
   "tickSize": 4, "labelPadding": 8, "labelFontSize": 12.5, "labelColor": "#595959", "labelOverlap": false, "labelFlush": false}},
 "color": {"field": "series", "type": "nominal", "legend": null, "scale": {"domain": ["Task-1 fine-tune","Task-2 fine-tune","Task-3 fine-tune","Task-4 fine-tune","Task-1 incremental","Task-2 incremental","Task-3 incremental","Task-4 incremental"], "range": ["#8FAADC","#ED7D31","#7CC242","#7030A0","#4472C4","#843C0C","#375623","#C8102E"]}},
 "detail": {"field": "stage", "type": "nominal"}
 }},
{"data": {"name": "bounds"},
 "mark": {"type": "rule", "color": "#404040", "strokeWidth": 1.5},
 "encoding": {"x": {"field": "b", "type": "quantitative", "scale": {"domain": [0, 238], "nice": false, "zero": false}, "axis": null}}}
]
},
{
"width": 572, "height": 77,
"layer": [
{"data": {"name": "task2"},
 "mark": {"type": "line", "strokeWidth": 1.5},
 "encoding": {
 "x": {"field": "step", "type": "quantitative", "scale": {"domain": [0, 238], "nice": false, "zero": false}, "axis": null},
 "y": {"field": "value", "type": "quantitative", "scale": {"domain": [15.38, 23.75], "nice": false, "zero": false},
  "axis": {"title": null, "values": [22.0108,21.3585,20.815,20.1628,19.5106,18.8584,18.2062,17.6627,17.0105,16.3583,16.5,19,21.5], "format": ".1~f",
   "labelExpr": "indexof([16.5,19,21.5], datum.value) >= 0 ? datum.label : ''",
   "domain": false, "grid": true,
   "gridColor": {"condition": {"test": "indexof([16.5,19,21.5], datum.value) >= 0", "value": "#D9D9D9"}, "value": "#4472C4"},
   "gridDash": {"condition": {"test": "indexof([16.5,19,21.5], datum.value) >= 0", "value": []}, "value": [1, 5]},
   "gridDashOffset": 4.5,
   "tickColor": {"condition": {"test": "indexof([16.5,19,21.5], datum.value) >= 0", "value": "#D9D9D9"}, "value": "rgba(0,0,0,0)"},
   "tickSize": 4, "labelPadding": 8, "labelFontSize": 12.5, "labelColor": "#595959", "labelOverlap": false, "labelFlush": false}},
 "color": {"field": "series", "type": "nominal", "legend": null, "scale": {"domain": ["Task-1 fine-tune","Task-2 fine-tune","Task-3 fine-tune","Task-4 fine-tune","Task-1 incremental","Task-2 incremental","Task-3 incremental","Task-4 incremental"], "range": ["#8FAADC","#ED7D31","#7CC242","#7030A0","#4472C4","#843C0C","#375623","#C8102E"]}},
 "detail": {"field": "stage", "type": "nominal"}
 }},
{"data": {"name": "bounds"},
 "mark": {"type": "rule", "color": "#404040", "strokeWidth": 1.5},
 "encoding": {"x": {"field": "b", "type": "quantitative", "scale": {"domain": [0, 238], "nice": false, "zero": false}, "axis": null}}}
]
},
{
"width": 572, "height": 77,
"layer": [
{"data": {"name": "task3"},
 "mark": {"type": "line", "strokeWidth": 1.5},
 "encoding": {
 "x": {"field": "step", "type": "quantitative", "scale": {"domain": [0, 238], "nice": false, "zero": false}, "axis": null},
 "y": {"field": "value", "type": "quantitative", "scale": {"domain": [16.85, 21.55], "nice": false, "zero": false},
  "axis": {"title": null, "values": [20.8786,20.5123,20.1461,19.7799,19.4747,19.1084,18.7422,18.376,18.0098,17.6435,17.5,18.7,19.9], "format": ".1~f",
   "labelExpr": "indexof([17.5,18.7,19.9], datum.value) >= 0 ? datum.label : ''",
   "domain": false, "grid": true,
   "gridColor": {"condition": {"test": "indexof([17.5,18.7,19.9], datum.value) >= 0", "value": "#D9D9D9"}, "value": "#4472C4"},
   "gridDash": {"condition": {"test": "indexof([17.5,18.7,19.9], datum.value) >= 0", "value": []}, "value": [1, 5]},
   "gridDashOffset": 4.5,
   "tickColor": {"condition": {"test": "indexof([17.5,18.7,19.9], datum.value) >= 0", "value": "#D9D9D9"}, "value": "rgba(0,0,0,0)"},
   "tickSize": 4, "labelPadding": 8, "labelFontSize": 12.5, "labelColor": "#595959", "labelOverlap": false, "labelFlush": false}},
 "color": {"field": "series", "type": "nominal", "legend": null, "scale": {"domain": ["Task-1 fine-tune","Task-2 fine-tune","Task-3 fine-tune","Task-4 fine-tune","Task-1 incremental","Task-2 incremental","Task-3 incremental","Task-4 incremental"], "range": ["#8FAADC","#ED7D31","#7CC242","#7030A0","#4472C4","#843C0C","#375623","#C8102E"]}},
 "detail": {"field": "stage", "type": "nominal"}
 }},
{"data": {"name": "bounds"},
 "mark": {"type": "rule", "color": "#404040", "strokeWidth": 1.5},
 "encoding": {"x": {"field": "b", "type": "quantitative", "scale": {"domain": [0, 238], "nice": false, "zero": false}, "axis": null}}}
]
},
{
"width": 572, "height": 65,
"resolve": {"axis": {"x": "independent"}},
"layer": [
{"data": {"name": "task4"},
 "mark": {"type": "line", "strokeWidth": 1.5},
 "encoding": {
 "x": {"field": "step", "type": "quantitative", "scale": {"domain": [0, 238], "nice": false, "zero": false},
  "axis": {"title": null, "orient": "bottom", "values": [0,15,30,45,58,73,88,103,118,133,148,163,178,193,208,223,238],
   "labelExpr": "'' + (datum.value >= 178 ? datum.value - 178 : datum.value >= 118 ? datum.value - 118 : datum.value >= 58 ? datum.value - 58 : datum.value)",
   "offset": 9.3, "grid": false, "domainColor": "#D9D9D9", "tickColor": "#D9D9D9", "tickSize": 4, "labelPadding": 6,
   "labelFontSize": 12, "labelColor": "#595959", "labelFlush": false, "labelOverlap": false}},
 "y": {"field": "value", "type": "quantitative", "scale": {"domain": [13.5, 15.26], "nice": false, "zero": false},
  "axis": {"title": null, "values": [14.9351,14.7726,14.6372,14.4748,14.3123,14.1499,13.9874,13.8249,13.6896,13.5,14.2,14.9], "format": ".1~f",
   "labelExpr": "indexof([13.5,14.2,14.9], datum.value) >= 0 ? datum.label : ''",
   "domain": false, "grid": true,
   "gridColor": {"condition": {"test": "indexof([13.5,14.2,14.9], datum.value) >= 0", "value": "#D9D9D9"}, "value": "#4472C4"},
   "gridDash": {"condition": {"test": "indexof([13.5,14.2,14.9], datum.value) >= 0", "value": []}, "value": [1, 5]},
   "gridDashOffset": 4.5,
   "tickColor": {"condition": {"test": "indexof([13.5,14.2,14.9], datum.value) >= 0", "value": "#D9D9D9"}, "value": "rgba(0,0,0,0)"},
   "tickSize": 4, "labelPadding": 8, "labelFontSize": 12.5, "labelColor": "#595959", "labelOverlap": false, "labelFlush": false}},
 "color": {"field": "series", "type": "nominal", "legend": null, "scale": {"domain": ["Task-1 fine-tune","Task-2 fine-tune","Task-3 fine-tune","Task-4 fine-tune","Task-1 incremental","Task-2 incremental","Task-3 incremental","Task-4 incremental"], "range": ["#8FAADC","#ED7D31","#7CC242","#7030A0","#4472C4","#843C0C","#375623","#C8102E"]}},
 "detail": {"field": "stage", "type": "nominal"}
 }},
{"data": {"name": "bounds"},
 "mark": {"type": "rule", "color": "#404040", "strokeWidth": 1.5},
 "encoding": {"x": {"field": "b", "type": "quantitative", "scale": {"domain": [0, 238], "nice": false, "zero": false},
  "axis": {"title": null, "orient": "bottom", "values": [0,58,118,178,238], "offset": 48.3, "grid": false,
   "domainColor": "#404040", "domainWidth": 1, "domainDash": [15,110.3,28,115.3,30,113.7,31,116.3,12.4],
   "tickColor": "#404040", "tickWidth": 1, "tickSize": -7.6,
   "labelExpr": "datum.value == 238 ? '' : 'Stage-' + (datum.value == 0 ? 1 : datum.value == 58 ? 2 : datum.value == 118 ? 3 : 4) + ' epochs'",
   "labelOffset": 70, "labelPadding": 10, "labelBaseline": "middle", "labelFlush": false, "labelOverlap": false,
   "labelFontSize": 13, "labelColor": "#404040"}}}}
]
}
]
}
